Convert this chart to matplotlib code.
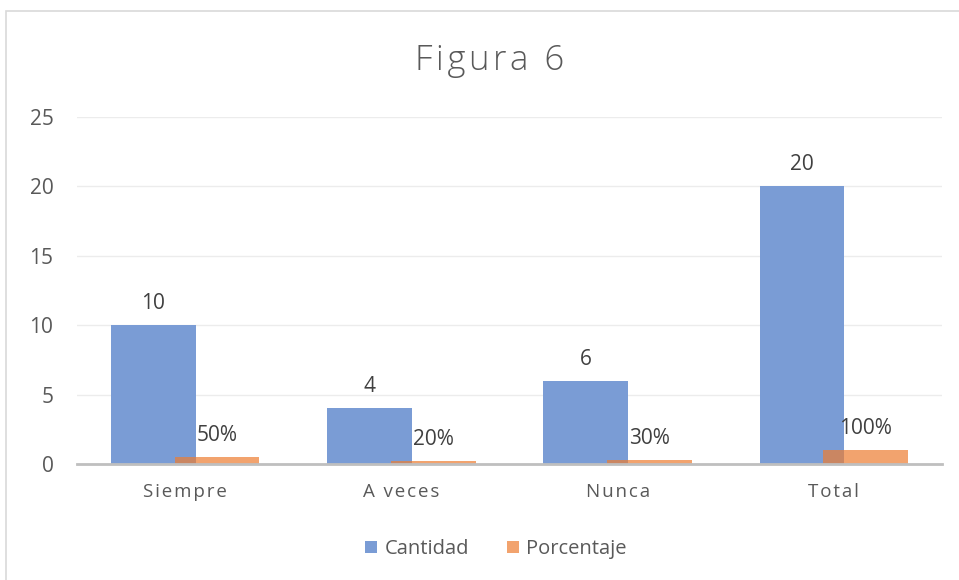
import matplotlib.pyplot as plt
import numpy as np
from matplotlib.patches import Rectangle

categorias = ["Siempre", "A veces", "Nunca", "Total"]
cantidad = [10, 4, 6, 20]
porcentaje = [0.5, 0.2, 0.3, 1.0]
porcentaje_txt = ["50%", "20%", "30%", "100%"]

plt.rcParams['font.family'] = ['Open Sans', 'DejaVu Sans']
gris = "#595959"

fig = plt.figure(figsize=(9.59, 5.8), dpi=100)
# borde del grafico (recortado a la derecha y abajo)
fig.patches.append(Rectangle((6 / 959, -0.1), 1.2, (580 - 11) / 580 + 0.1,
                             transform=fig.transFigure, fill=False,
                             edgecolor="#d9d9d9", linewidth=1.2))

ax = fig.add_axes([77 / 959, 116 / 580, 865 / 959, 347 / 580])
x = np.arange(len(categorias))
ancho = 0.392
desp = 0.1477

b1 = ax.bar(x - desp, cantidad, ancho, color="#7A9CD5", label="Cantidad", zorder=2)
b2 = ax.bar(x + desp, porcentaje, ancho, color="#ED7D31", alpha=0.7,
            label="Porcentaje", zorder=3)

for r, v in zip(b1, cantidad):
    ax.annotate(str(v), (r.get_x() + r.get_width() / 2, r.get_height()),
                xytext=(0, 8), textcoords="offset points", ha="center",
                va="bottom", fontsize=15, color="#404040")
for r, t in zip(b2, porcentaje_txt):
    ax.annotate(t, (r.get_x() + r.get_width() / 2, r.get_height()),
                xytext=(0, 8), textcoords="offset points", ha="center",
                va="bottom", fontsize=15, color="#404040")

ax.set_xlim(-0.5, len(categorias) - 0.5)
ax.set_ylim(0, 25)
ax.set_yticks([0, 5, 10, 15, 20, 25])
ax.set_xticks(x)
# letras algo separadas como en el original
ax.set_xticklabels(["\u200a".join(c) for c in categorias])
ax.tick_params(axis="both", length=0, labelcolor=gris)
ax.tick_params(axis="x", pad=14, labelsize=13.5)
ax.tick_params(axis="y", pad=17, labelsize=15)
ax.grid(axis="y", color="#ececec", linewidth=1, zorder=0)
for s in ["top", "right", "left"]:
    ax.spines[s].set_visible(False)
ax.spines["bottom"].set_color("#bfbfbf")
ax.spines["bottom"].set_linewidth(2)
ax.spines["bottom"].set_zorder(4)

fig.text(490 / 959, 1 - 61 / 580, "\u200a".join("Figura 6"), ha="center",
         va="center", fontsize=25, color=gris, fontweight="light")

fig.legend(handles=[b1, b2], labels=["Cantidad", "Porcentaje"], loc="center",
           bbox_to_anchor=(496 / 959, 1 - 549 / 580), ncol=2, frameon=False,
           fontsize=14.5, labelcolor=gris, handlelength=0.6, handleheight=0.6,
           handletextpad=0.35, columnspacing=1.9)

fig.savefig("out.png", dpi=100)
